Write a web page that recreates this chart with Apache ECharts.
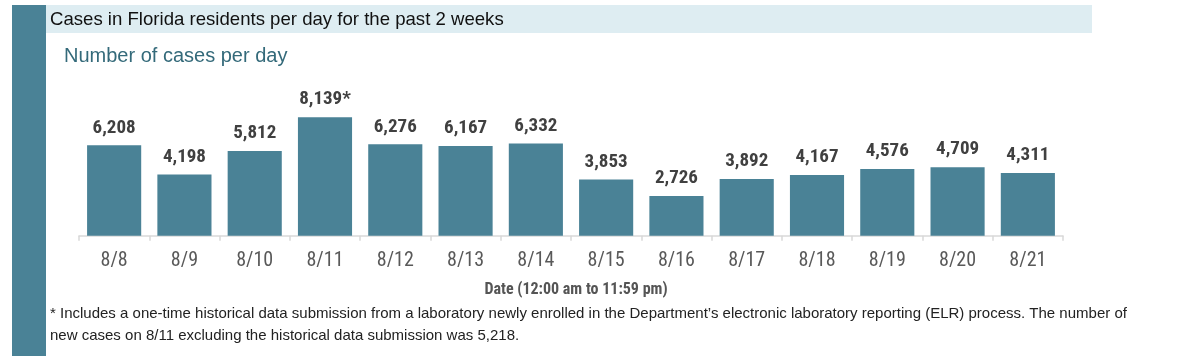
<!DOCTYPE html>
<html><head><meta charset="utf-8">
<script src="https://cdn.jsdelivr.net/npm/echarts@6/dist/echarts.min.js"></script>
<style>html,body{margin:0;padding:0;background:#fff}#c{width:1200px;height:356px}</style>
</head><body><div id="c"></div>
<script>
const categories = ['8/8','8/9','8/10','8/11','8/12','8/13','8/14','8/15','8/16','8/17','8/18','8/19','8/20','8/21'];
const cases = [6208,4198,5812,8139,6276,6167,6332,3853,2726,3892,4167,4576,4709,4311];
const labelMarks = ['','','','*','','','','','','','','','',''];
const titleText = 'Cases in Florida residents per day for the past 2 weeks';
const subtitleText = 'Number of cases per day';
const xAxisTitle = 'Date (12:00 am to 11:59 pm)';
const footnote1 = '* Includes a one-time historical data submission from a laboratory newly enrolled in the Department\u2019s electronic laboratory reporting (ELR) process. The number of';
const footnote2 = 'new cases on 8/11 excluding the historical data submission was 5,218.';

const chart = echarts.init(document.getElementById('c'), null, {renderer:'canvas'});
const narrow = '"Liberation Sans Narrow", "Roboto Condensed", "Liberation Sans", sans-serif';
chart.setOption({
  animation:false,
  graphic:[
    {type:'rect', shape:{x:12,y:5,width:34,height:351}, style:{fill:'#4a8296'}},
    {type:'rect', shape:{x:46,y:5,width:1046,height:28}, style:{fill:'#deedf2'}},
    {type:'text', left:50, top:10, style:{text:titleText, fill:'#111', font:'18.6px "Liberation Sans", sans-serif'}},
    {type:'text', left:64, top:46, style:{text:subtitleText, fill:'#346a7a', font:'20px "Liberation Sans", sans-serif'}},
    {type:'text', x:576, y:290, style:{text:xAxisTitle, fill:'#555', font:'bold 16px '+narrow, align:'center', verticalAlign:'middle'}},
    {type:'text', left:50, top:306, style:{text:footnote1, fill:'#222', font:'15px "Liberation Sans", sans-serif'}},
    {type:'text', left:50, top:328, style:{text:footnote2, fill:'#222', font:'15px "Liberation Sans", sans-serif'}}
  ],
  grid:{left:79, right:137, top:104.7, bottom:120.3},
  xAxis:{type:'category', data:categories,
    axisLine:{lineStyle:{color:'#d9d9d9', width:1.5}},
    axisTick:{show:true, length:5, lineStyle:{color:'#d9d9d9', width:1.5}},
    axisLabel:{color:'#595959', fontSize:20, fontFamily:narrow, margin:15}},
  yAxis:{type:'value', min:0, max:9000, show:false, splitLine:{show:false}},
  series:[{type:'bar', data:cases, barCategoryGap:'23%',
    itemStyle:{color:'#4a8296'},
    label:{show:true, position:'top', distance:8, color:'#404040', fontSize:19, fontFamily:narrow, fontWeight:'bold',
      formatter:p=>p.value.toLocaleString('en-US')+labelMarks[p.dataIndex]}}]
});
</script></body></html>
